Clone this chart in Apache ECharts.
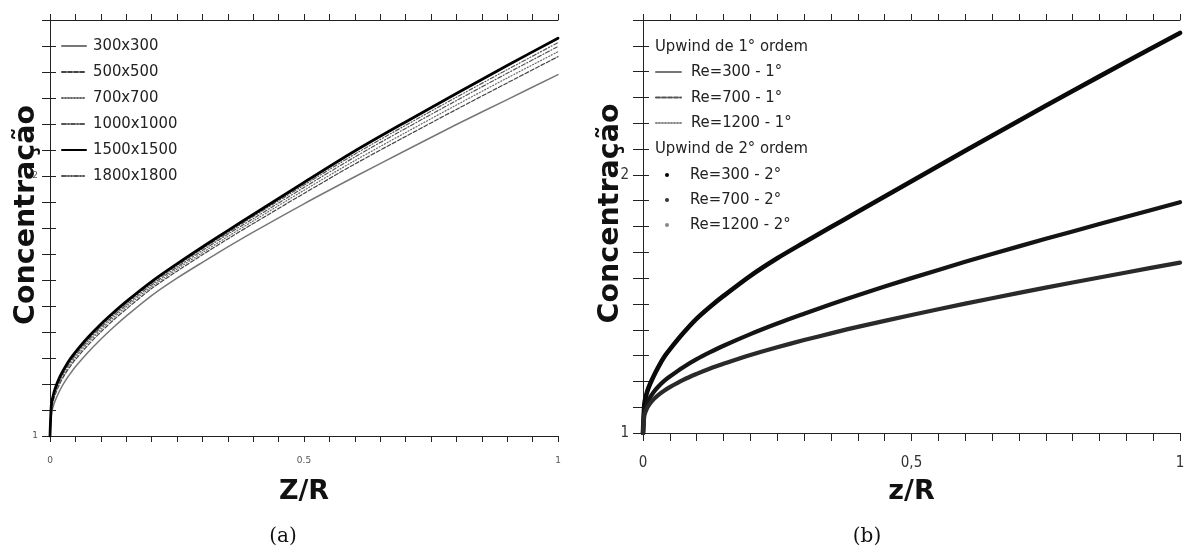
<!DOCTYPE html>
<html>
<head>
<meta charset="utf-8">
<script src="https://cdn.jsdelivr.net/npm/echarts@6/dist/echarts.min.js"></script>
<style>
html,body{margin:0;padding:0;background:#fff;}
#chart{width:1192px;height:554px;}
</style>
</head>
<body>
<div id="chart"></div>
<script>
// shared abscissa z/R
const zr = [0, 0.0025, 0.005, 0.01, 0.02, 0.03, 0.04, 0.05, 0.075, 0.1, 0.125, 0.15, 0.2, 0.25, 0.3, 0.35, 0.4, 0.5, 0.6, 0.7, 0.8, 0.9, 1.0];

// (a) mesh study
const meshNames = ['300x300', '500x500', '700x700', '1000x1000', '1500x1500', '1800x1800'];
const c300  = [1.000, 1.080, 1.105, 1.135, 1.178, 1.212, 1.240, 1.266, 1.322, 1.372, 1.418, 1.461, 1.540, 1.607, 1.668, 1.727, 1.784, 1.893, 1.997, 2.098, 2.198, 2.294, 2.390];
const c500  = [1.000, 1.098, 1.125, 1.158, 1.204, 1.239, 1.268, 1.294, 1.350, 1.400, 1.446, 1.488, 1.567, 1.634, 1.697, 1.758, 1.817, 1.933, 2.046, 2.152, 2.256, 2.358, 2.459];
const c700  = [1.000, 1.103, 1.130, 1.165, 1.211, 1.246, 1.276, 1.302, 1.359, 1.409, 1.455, 1.497, 1.574, 1.642, 1.705, 1.767, 1.827, 1.945, 2.059, 2.167, 2.273, 2.377, 2.478];
const c1000 = [1.000, 1.109, 1.136, 1.171, 1.218, 1.254, 1.284, 1.310, 1.367, 1.417, 1.462, 1.504, 1.581, 1.649, 1.713, 1.776, 1.836, 1.956, 2.073, 2.183, 2.290, 2.395, 2.498];
const c1500 = [1.000, 1.117, 1.145, 1.182, 1.230, 1.266, 1.297, 1.323, 1.380, 1.430, 1.475, 1.517, 1.594, 1.662, 1.727, 1.790, 1.852, 1.975, 2.096, 2.208, 2.317, 2.425, 2.530];
const c1800 = [1.000, 1.113, 1.140, 1.176, 1.224, 1.260, 1.290, 1.316, 1.373, 1.423, 1.468, 1.510, 1.587, 1.655, 1.720, 1.782, 1.844, 1.965, 2.084, 2.195, 2.303, 2.409, 2.513];

// (b) upwind schemes
const firstNames  = ['Re=300 - 1°', 'Re=700 - 1°', 'Re=1200 - 1°'];
const secondNames = ['Re=300 - 2°', 'Re=700 - 2°', 'Re=1200 - 2°'];
const re300_1  = [1.000, 1.111, 1.139, 1.174, 1.221, 1.261, 1.296, 1.324, 1.387, 1.443, 1.489, 1.531, 1.609, 1.677, 1.738, 1.798, 1.857, 1.975, 2.093, 2.210, 2.325, 2.438, 2.550];
const re700_1  = [1.000, 1.082, 1.102, 1.127, 1.159, 1.183, 1.203, 1.219, 1.255, 1.286, 1.313, 1.338, 1.383, 1.424, 1.462, 1.499, 1.534, 1.600, 1.663, 1.723, 1.781, 1.838, 1.894];
const re1200_1 = [1.000, 1.068, 1.084, 1.105, 1.131, 1.150, 1.165, 1.178, 1.206, 1.229, 1.250, 1.268, 1.302, 1.332, 1.360, 1.386, 1.411, 1.457, 1.501, 1.543, 1.583, 1.622, 1.660];
const re300_2  = [1.000, 1.111, 1.139, 1.174, 1.221, 1.261, 1.296, 1.324, 1.387, 1.443, 1.489, 1.531, 1.609, 1.677, 1.738, 1.798, 1.857, 1.975, 2.093, 2.210, 2.325, 2.438, 2.550];
const re700_2  = [1.000, 1.082, 1.102, 1.127, 1.159, 1.183, 1.203, 1.219, 1.255, 1.286, 1.313, 1.338, 1.383, 1.424, 1.462, 1.499, 1.534, 1.600, 1.663, 1.723, 1.781, 1.838, 1.894];
const re1200_2 = [1.000, 1.068, 1.084, 1.105, 1.131, 1.150, 1.165, 1.178, 1.206, 1.229, 1.250, 1.268, 1.302, 1.332, 1.360, 1.386, 1.411, 1.457, 1.501, 1.543, 1.583, 1.622, 1.660];

const yTitle = 'Concentração';
const xTitleA = 'Z/R';
const xTitleB = 'z/R';
const header1 = 'Upwind de 1° ordem';
const header2 = 'Upwind de 2° ordem';
const captions = ['(a)', '(b)'];

const pairs = arr => zr.map((x, i) => [x, arr[i]]);
const near = (v, t) => Math.abs(v - t) < 1e-6;

const narrow = "'Liberation Sans Narrow', 'DejaVu Sans Condensed', sans-serif";
const boldFont = "'DejaVu Sans', sans-serif";
const legendFontSize = 16.5;

function xAxisMain(grid, fmt, labelStyle, name, tickLen, gap) {
  return {
    type: 'value', gridIndex: grid, min: 0, max: 1, interval: 0.05, position: 'bottom',
    axisLine: {show: true, lineStyle: {color: '#222', width: 1}},
    axisTick: {show: true, length: tickLen, lineStyle: {color: '#222'}},
    splitLine: {show: false},
    axisLabel: Object.assign({formatter: fmt, interval: 0, hideOverlap: false}, labelStyle),
    name: name, nameLocation: 'middle', nameGap: gap, nameMoveOverlap: false,
    nameTextStyle: {fontFamily: boldFont, fontWeight: 'bold', fontSize: 27, color: '#111'}
  };
}
function xAxisTop(grid) {
  return {
    type: 'value', gridIndex: grid, min: 0, max: 1, interval: 0.05, position: 'top',
    axisLine: {show: true, lineStyle: {color: '#222', width: 1}},
    axisTick: {show: true, length: 6, lineStyle: {color: '#222'}},
    splitLine: {show: false}, axisLabel: {show: false}
  };
}
function yAxisMain(grid, labelStyle, gap, tickLen) {
  return {
    type: 'value', gridIndex: grid, min: 1, max: 2.6, interval: 0.1, position: 'left',
    axisLine: {show: true, lineStyle: {color: '#222', width: 1}},
    axisTick: {show: true, length: tickLen, lineStyle: {color: '#222'}},
    splitLine: {show: false},
    axisLabel: Object.assign({formatter: v => (near(v, 1) ? '1' : near(v, 2) ? '2' : ''), interval: 0, hideOverlap: false}, labelStyle),
    name: yTitle, nameLocation: 'middle', nameRotate: 90, nameGap: gap, nameMoveOverlap: false,
    nameTextStyle: {fontFamily: boldFont, fontWeight: 'bold', fontSize: 28.5, color: '#111', padding: [0, 0, 0, 26]}
  };
}
function yAxisRight(grid) {
  return {
    type: 'value', gridIndex: grid, min: 1, max: 2.6, interval: 0.1, position: 'right',
    axisLine: {show: true, lineStyle: {color: '#222', width: 1}},
    axisTick: {show: true, length: 6, lineStyle: {color: '#222'}},
    splitLine: {show: false}, axisLabel: {show: false}
  };
}

const smallLbl = {fontSize: 9, color: '#555', fontFamily: "'DejaVu Sans', sans-serif"};
const bigLbl = {fontSize: 15, color: '#333', fontFamily: narrow};

function lineSeries(name, xi, yi, arr, color, width, type, z) {
  return {
    name: name, type: 'line', xAxisIndex: xi, yAxisIndex: yi, data: pairs(arr),
    showSymbol: false, symbol: 'none', smooth: 0.3,
    lineStyle: {color: color, width: width, type: type, join: 'round', cap: 'round'}, itemStyle: {color: color},
    z: z, animation: false
  };
}

const meshArrays = [c300, c500, c700, c1000, c1500, c1800];
const meshStyles = [
  ['#777', 1.5, 'solid'],
  ['#444', 1.2, [4, 2]],
  ['#666', 1.2, [1, 2]],
  ['#555', 1.2, [4, 2, 1, 2]],
  ['#000', 2.8, 'solid'],
  ['#555', 1.2, [4, 2, 1, 2, 1, 2]]
];
const series = [];
meshArrays.forEach((arr, i) => {
  const s = meshStyles[i];
  series.push(lineSeries(meshNames[i], 0, 0, arr, s[0], s[1], s[2], i === 4 ? 5 : 3));
});
const firstArrays = [re300_1, re700_1, re1200_1];
const firstStyles = [['#777', 1.5, 'solid'], ['#555', 1.2, [4, 2]], ['#888', 1.2, [1, 2]]];
firstArrays.forEach((arr, i) => {
  const s = firstStyles[i];
  series.push(lineSeries(firstNames[i], 2, 2, arr, s[0], s[1], s[2], 2));
});
const secondArrays = [re300_2, re700_2, re1200_2];
const secondStyles = [['#0a0a0a', 4.6], ['#141414', 4.2], ['#2a2a2a', 4.2]];
secondArrays.forEach((arr, i) => {
  const s = secondStyles[i];
  series.push(lineSeries(secondNames[i], 2, 2, arr, s[0], s[1], 'solid', 4));
});

const legendText = {fontFamily: narrow, fontSize: legendFontSize, color: '#222', lineHeight: 20};

const option = {
  backgroundColor: '#fff',
  animation: false,
  grid: [
    {left: 50, top: 20, width: 508, height: 416},
    {left: 643, top: 20, width: 537, height: 413}
  ],
  xAxis: [
    xAxisMain(0, v => (near(v, 0) ? '0' : near(v, 0.5) ? '0.5' : near(v, 1) ? '1' : ''), Object.assign({margin: 20}, smallLbl), xTitleA, 6, 42),
    xAxisTop(0),
    xAxisMain(1, v => (near(v, 0) ? '0' : near(v, 0.5) ? '0,5' : near(v, 1) ? '1' : ''), Object.assign({margin: 23}, bigLbl), xTitleB, 8, 45),
    xAxisTop(1)
  ],
  yAxis: [
    yAxisMain(0, Object.assign({margin: 12}, smallLbl), 9, 8),
    yAxisRight(0),
    yAxisMain(1, Object.assign({margin: 14}, bigLbl), 18, 10),
    yAxisRight(1)
  ],
  legend: [
    {
      data: meshNames, orient: 'vertical', left: 61, top: 36, padding: 0,
      itemWidth: 24, itemHeight: 14, itemGap: 6, selectedMode: false,
      itemStyle: {opacity: 0},
      textStyle: Object.assign({padding: [0, 0, 0, 2]}, legendText)
    },
    {
      data: firstNames, orient: 'vertical', left: 655, top: 62, padding: 0,
      itemWidth: 25, itemHeight: 14, itemGap: 5.5, selectedMode: false,
      itemStyle: {opacity: 0},
      textStyle: Object.assign({padding: [0, 0, 0, 5]}, legendText)
    },
    {
      data: secondNames.map((n, i) => ({name: n, icon: 'circle', itemStyle: {color: ['#000', '#333', '#888'][i]}})),
      orient: 'vertical', left: 665, top: 165, padding: 0,
      itemWidth: 20, itemHeight: 4, itemGap: 5, selectedMode: false,
      textStyle: Object.assign({padding: [0, 0, 0, 8]}, legendText)
    }
  ],
  graphic: [
    {type: 'text', left: 655, top: 38, style: {text: header1, fontFamily: narrow, fontSize: legendFontSize, fill: '#222'}},
    {type: 'text', left: 655, top: 140, style: {text: header2, fontFamily: narrow, fontSize: legendFontSize, fill: '#222'}},
    {type: 'text', x: 283, y: 537, style: {text: captions[0], fontFamily: "'DejaVu Serif', serif", fontSize: 20, fill: '#111', align: 'center', verticalAlign: 'middle'}},
    {type: 'text', x: 867, y: 537, style: {text: captions[1], fontFamily: "'DejaVu Serif', serif", fontSize: 20, fill: '#111', align: 'center', verticalAlign: 'middle'}}
  ],
  series: series
};

const chart = echarts.init(document.getElementById('chart'), null, {renderer: 'canvas'});
chart.setOption(option);
</script>
</body>
</html>
